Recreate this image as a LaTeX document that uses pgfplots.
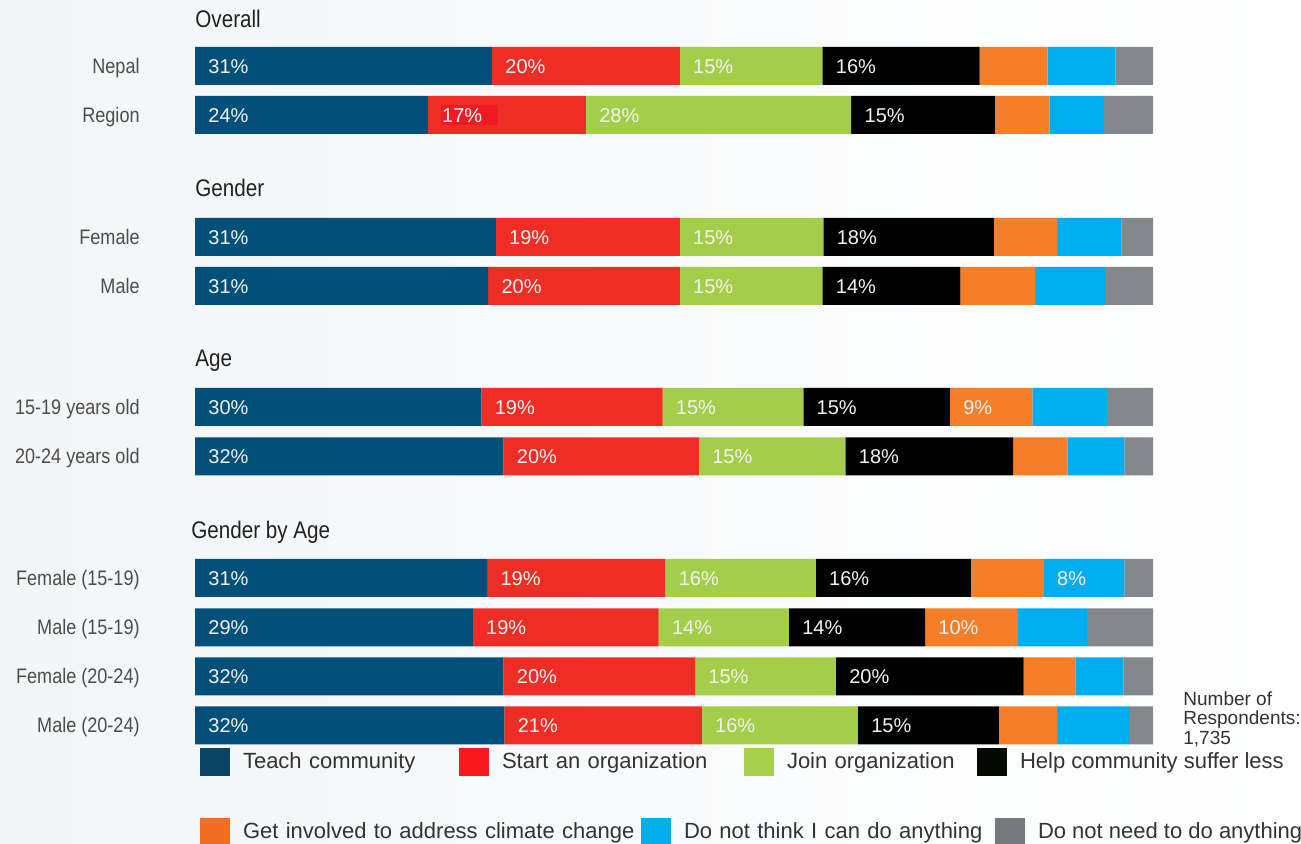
\documentclass[border=0pt]{standalone}
\usepackage{fontspec}
\setmainfont{Liberation Sans}
\newfontfamily\condfont[FakeStretch=0.86]{Liberation Sans}
\usepackage{pgfplots}
\pgfplotsset{compat=1.18}
\definecolor{cTeal}{HTML}{02507A}
\definecolor{cRed}{HTML}{EE2D24}
\definecolor{cGreen}{HTML}{A4CD4A}
\definecolor{cBlack}{HTML}{000000}
\definecolor{cOrange}{HTML}{F47F28}
\definecolor{cBlue}{HTML}{00AEEF}
\definecolor{cGray}{HTML}{84888C}
\definecolor{lTeal}{HTML}{0A4565}
\definecolor{lRed}{HTML}{F7191E}
\definecolor{lGreen}{HTML}{A6CF50}
\definecolor{lBlack}{HTML}{020A02}
\definecolor{lOrange}{HTML}{F06D22}
\definecolor{lBlue}{HTML}{02AEEC}
\definecolor{lGray}{HTML}{75787D}
\definecolor{boxRed}{HTML}{F11A22}
\definecolor{catText}{HTML}{4D4D4D}
\definecolor{headText}{HTML}{222222}
\definecolor{legText}{HTML}{333333}
\definecolor{bgL}{HTML}{F3F5F7}
\definecolor{barText}{HTML}{F2F2F2}
\pgfplotsset{
  base/.style={at={(0,0)}, anchor=south west, scale only axis,
    width=650.5pt, height=422pt,
    xmin=-20.355, xmax=115.449, ymin=-844, ymax=0, clip=false},
  barlab/.style={forget plot, draw=none, mark=none, nodes near coords={\pgfplotspointmeta\%},
    point meta=explicit symbolic,
    every node near coord/.style={anchor=west, xshift=6.5pt, inner sep=0pt,
      text height=7.16pt, text depth=0pt, text=barText, font=\fontsize{10}{12}\selectfont}},
  sqlegend/.style={legend image code/.code={\fill[##1] (0pt,-3.5pt) rectangle (15pt,10.5pt);},
    legend style={draw=none, fill=none, inner sep=0pt, outer sep=0pt, column sep=0pt,
      anchor=north west, nodes={inner sep=0pt, yshift=3.3pt, text=legText, font=\fontsize{11}{13}\selectfont},
      /tikz/every odd column/.append style={column sep=6.5pt}}},
}
\begin{document}
\begin{tikzpicture}
\begin{axis}[base,
  xbar stacked, bar width=19pt,
  axis line style={draw=none},
  xtick=\empty,
  ytick={-725.5,-676.5,-627.5,-578,-456.5,-407,-286,-237,-115,-66},
  yticklabels={Male (20-24),Female (20-24),Male (15-19),Female (15-19),20-24 years old,15-19 years old,Male,Female,Region,Nepal},
  major tick length=0pt,
  yticklabel style={anchor=east, inner sep=0pt, xshift=70pt, text height=7.5pt, text depth=0pt,
    text=catText, font=\condfont\fontsize{10.5}{12}\selectfont},
  axis background/.style={left color=bgL, right color=white},
]
% order of rows: Nepal, Region, Female, Male, 15-19, 20-24, F(15-19), M(15-19), F(20-24), M(20-24)
\addplot[fill=cTeal, draw=none] coordinates {(31.0,-66) (24.3,-115) (31.4,-237) (30.6,-286) (29.9,-407) (32.2,-456.5) (30.5,-578) (29.0,-627.5) (32.2,-676.5) (32.3,-725.5)};
\addplot[fill=cRed, draw=none] coordinates {(19.6,-66) (16.5,-115) (19.2,-237) (20.0,-286) (18.9,-407) (20.4,-456.5) (18.6,-578) (19.4,-627.5) (20.0,-676.5) (20.6,-725.5)};
\addplot[fill=cGreen, draw=none] coordinates {(14.9,-66) (27.7,-115) (15.0,-237) (14.9,-286) (14.7,-407) (15.3,-456.5) (15.7,-578) (13.6,-627.5) (14.7,-676.5) (16.3,-725.5)};
\addplot[fill=cBlack, draw=none] coordinates {(16.4,-66) (15.0,-115) (17.8,-237) (14.4,-286) (15.3,-407) (17.5,-456.5) (16.2,-578) (14.2,-627.5) (19.6,-676.5) (14.7,-725.5)};
\addplot[fill=cOrange, draw=none] coordinates {(7.1,-66) (5.7,-115) (6.6,-237) (7.8,-286) (8.6,-407) (5.7,-456.5) (7.6,-578) (9.7,-627.5) (5.4,-676.5) (6.1,-725.5)};
\addplot[fill=cBlue, draw=none] coordinates {(7.1,-66) (5.7,-115) (6.7,-237) (7.3,-286) (7.8,-407) (5.9,-456.5) (8.4,-578) (7.2,-627.5) (5.0,-676.5) (7.5,-725.5)};
\addplot[fill=cGray, draw=none] coordinates {(3.9,-66) (5.1,-115) (3.3,-237) (5.0,-286) (4.8,-407) (3.0,-456.5) (3.0,-578) (6.9,-627.5) (3.1,-676.5) (2.5,-725.5)};
\end{axis}
\begin{axis}[base, hide axis, sqlegend, legend columns=4,
  legend style={at={(0.15373,0.11374)}}]
\addlegendimage{fill=lTeal, draw=none}
\addlegendentry[text width=108pt, align=left]{Teach community}
\addlegendimage{fill=lRed, draw=none}
\addlegendentry[text width=121pt, align=left]{Start an organization}
\addlegendimage{fill=lGreen, draw=none}
\addlegendentry[text width=95pt, align=left]{Join organization}
\addlegendimage{fill=lBlack, draw=none}
\addlegendentry{Help community suffer less}
% segment labels (x = start of segment)
\addplot[barlab] coordinates {
 (0,-66) [31] (31.0,-66) [20] (50.6,-66) [15] (65.5,-66) [16]
 (0,-115) [24] (40.8,-115) [28] (68.5,-115) [15]
 (0,-237) [31] (31.4,-237) [19] (50.6,-237) [15] (65.6,-237) [18]
 (0,-286) [31] (30.6,-286) [20] (50.6,-286) [15] (65.5,-286) [14]
 (0,-407) [30] (29.9,-407) [19] (48.8,-407) [15] (63.5,-407) [15] (78.8,-407) [9]
 (0,-456.5) [32] (32.2,-456.5) [20] (52.6,-456.5) [15] (67.9,-456.5) [18]
 (0,-578) [31] (30.5,-578) [19] (49.1,-578) [16] (64.8,-578) [16] (88.6,-578) [8]
 (0,-627.5) [29] (29.0,-627.5) [19] (48.4,-627.5) [14] (62.0,-627.5) [14] (76.2,-627.5) [10]
 (0,-676.5) [32] (32.2,-676.5) [20] (52.2,-676.5) [15] (66.9,-676.5) [20]
 (0,-725.5) [32] (32.3,-725.5) [21] (52.9,-725.5) [16] (69.2,-725.5) [15]
};
\addplot[barlab, every node near coord/.append style={fill=boxRed, text=white, inner ysep=1.2pt,
  text width=27.5pt, align=left, inner xsep=0.5pt}] coordinates {(24.3,-115) [17]};
% group headings
\addplot[forget plot, draw=none, mark=none, nodes near coords, point meta=explicit symbolic,
  every node near coord/.style={anchor=west, inner sep=0pt, text height=8.6pt, text depth=0pt,
    text=headText, font=\condfont\fontsize{12}{14}\selectfont}]
  coordinates {(0,-18.5) [Overall] (0,-188) [Gender] (0,-358) [Age] (-0.42,-530) [Gender by Age]};
\node[anchor=north west, align=left, inner sep=0pt, text=legText,
  font=\fontsize{9.5}{9.8}\selectfont] at (axis cs:103.13,-691) {Number of\\Respondents:\\1,735};
\end{axis}
\begin{axis}[base, hide axis, sqlegend, legend columns=3,
  legend style={at={(0.15373,0.03081)}}]
\addlegendimage{fill=lOrange, draw=none}
\addlegendentry[text width=199pt, align=left]{Get involved to address climate change}
\addlegendimage{fill=lBlue, draw=none}
\addlegendentry[text width=155.5pt, align=left]{Do not think I can do anything}
\addlegendimage{fill=lGray, draw=none}
\addlegendentry{Do not need to do anything}
\end{axis}
\pgfresetboundingbox
\path[use as bounding box] (0,0) rectangle (650.5pt,422pt);
\end{tikzpicture}
\end{document}
